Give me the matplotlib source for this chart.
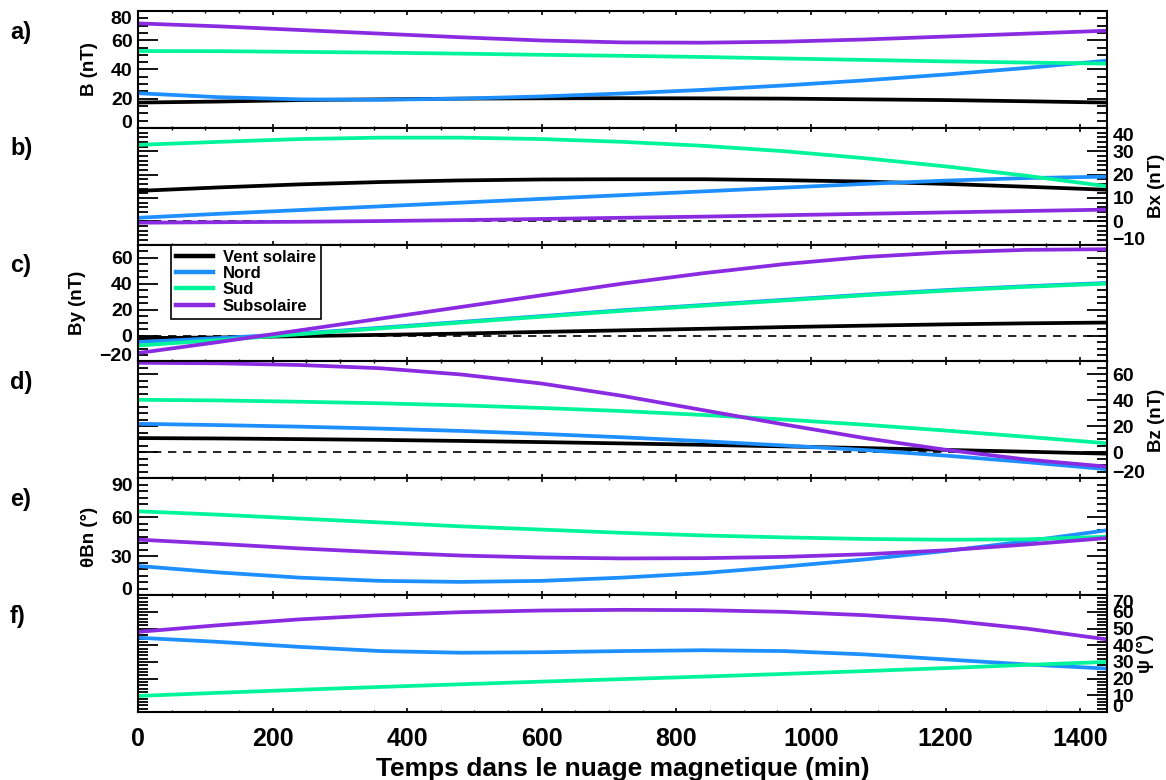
import numpy as np
import matplotlib.pyplot as plt

plt.rcParams['font.family'] = ['Liberation Sans', 'DejaVu Sans']
plt.rcParams['font.weight'] = 'bold'
plt.rcParams['axes.labelweight'] = 'bold'
plt.rcParams['axes.linewidth'] = 1.5

# time in the magnetic cloud (min)
time = [0, 120, 240, 360, 480, 600, 720, 840, 960, 1080, 1200, 1320, 1440]

# a) B (nT)
b_sw = [17.3, 18.0, 19.0, 19.5, 20.0, 20.2, 20.3, 20.2, 20.0, 19.5, 19.0, 18.2, 17.3]
b_nord = [23.7, 21.0, 19.5, 19.2, 20.0, 21.5, 23.5, 26.0, 29.0, 32.5, 36.5, 41.0, 46.0]
b_sud = [52.6, 52.5, 52.0, 51.5, 50.8, 50.0, 49.3, 48.5, 47.5, 46.5, 45.5, 44.7, 44.0]
b_sub = [71.5, 69.5, 67.0, 64.5, 62.0, 59.8, 58.5, 58.3, 59.0, 60.5, 62.5, 64.5, 66.5]

# b) Bx (nT)
bx_sw = [13.0, 14.5, 15.8, 16.8, 17.5, 17.9, 18.0, 18.0, 17.6, 17.0, 16.0, 14.8, 13.5]
bx_nord = [1.5, 3.2, 4.8, 6.4, 8.0, 9.6, 11.2, 12.8, 14.4, 16.0, 17.4, 18.5, 19.1]
bx_sud = [32.7, 34.0, 35.2, 35.8, 35.8, 35.2, 34.0, 32.3, 30.0, 27.0, 23.5, 19.5, 15.0]
bx_sub = [-0.6, -0.4, -0.2, 0.1, 0.5, 1.0, 1.5, 2.0, 2.6, 3.2, 3.8, 4.4, 5.0]

# c) By (nT)
by_sw = [-2.0, -1.5, -0.5, 0.5, 1.5, 2.8, 4.0, 5.2, 6.5, 7.6, 8.6, 9.4, 10.0]
by_nord = [-5.0, -2.0, 1.5, 6.0, 10.5, 15.0, 19.5, 23.5, 27.5, 31.5, 35.0, 38.0, 40.5]
by_sud = [-7.7, -3.5, 1.0, 5.5, 10.0, 14.5, 19.0, 23.0, 27.0, 31.0, 34.5, 37.5, 40.0]
by_sub = [-13.5, -5.0, 4.0, 13.0, 22.0, 31.0, 40.0, 48.0, 55.0, 60.5, 64.0, 66.0, 66.5]

# d) Bz (nT)
bz_sw = [11.0, 10.7, 10.2, 9.6, 8.8, 7.9, 6.9, 5.8, 4.6, 3.3, 1.9, 0.5, -1.0]
bz_nord = [22.0, 21.0, 19.8, 18.3, 16.5, 14.2, 11.6, 8.6, 5.3, 1.8, -2.5, -7.5, -13.0]
bz_sud = [40.5, 40.0, 39.0, 37.8, 36.2, 34.2, 31.8, 28.8, 25.3, 21.3, 16.8, 12.0, 7.0]
bz_sub = [69.0, 68.6, 67.3, 64.8, 60.0, 53.0, 43.5, 32.5, 21.5, 11.0, 2.0, -5.5, -11.0]

# e) theta Bn (deg)
th_nord = [22.5, 17.5, 13.5, 11.0, 10.2, 11.0, 13.5, 17.0, 22.0, 27.5, 34.0, 41.5, 50.0]
th_sud = [64.6, 62.0, 59.0, 56.0, 53.0, 50.5, 48.0, 46.0, 44.5, 43.3, 42.7, 43.0, 45.0]
th_sub = [42.8, 39.5, 36.0, 33.0, 30.5, 29.0, 28.3, 28.5, 29.5, 31.5, 34.5, 39.0, 44.0]

# f) psi (deg)
psi_nord = [44.5, 42.0, 39.0, 36.5, 35.5, 35.8, 36.5, 37.0, 36.5, 34.5, 31.5, 28.5, 26.0]
psi_sud = [9.6, 11.5, 13.3, 15.0, 16.6, 18.2, 19.7, 21.2, 22.8, 24.5, 26.3, 28.2, 30.0]
psi_sub = [48.0, 52.0, 55.5, 58.0, 59.8, 60.8, 61.2, 61.0, 60.0, 58.0, 55.0, 50.0, 43.5]

names = ['Vent solaire', 'Nord', 'Sud', 'Subsolaire']
colors = ['black', '#1e8fff', '#00f59a', '#8a2be2']

panels = [
    ('a)', 'B (nT)', 'left', (0, 80), [0, 20, 40, 60, 80], 5, [b_sw, b_nord, b_sud, b_sub], False),
    ('b)', 'Bx (nT)', 'right', (-10, 40), [-10, 0, 10, 20, 30, 40], 2, [bx_sw, bx_nord, bx_sud, bx_sub], True),
    ('c)', 'By (nT)', 'left', (-20, 70), [-20, 0, 20, 40, 60], 5, [by_sw, by_nord, by_sud, by_sub], True),
    ('d)', 'Bz (nT)', 'right', (-20, 70), [-20, 0, 20, 40, 60], 5, [bz_sw, bz_nord, bz_sud, bz_sub], True),
    ('e)', 'θBn (°)', 'left', (0, 90), [0, 30, 60, 90], 5, [None, th_nord, th_sud, th_sub], False),
    ('f)', 'ψ (°)', 'right', (0, 70), [0, 10, 20, 30, 40, 50, 60, 70], 2, [None, psi_nord, psi_sud, psi_sub], False),
]

W, H = 1166, 780
fig = plt.figure(figsize=(W / 100, H / 100), dpi=100)
x0, x1 = 138, 1107
top0, ph = 11, 116.83

for i, (letter, ylab, side, ylim, yt, ymin, series, zero) in enumerate(panels):
    top = top0 + i * ph
    ax = fig.add_axes([x0 / W, 1 - (top + ph) / H, (x1 - x0) / W, ph / H])
    if zero:
        ax.axhline(0, color='k', lw=1.2, ls=(0, (5, 4)), zorder=1)
    for s, name, c in zip(series, names, colors):
        if s is None:
            continue
        ax.plot(time, s, color=c, lw=2.7, label=name, zorder=2)

    ax.set_xlim(0, 1440)
    ax.set_ylim(*ylim)
    ax.set_xticks([0, 200, 400, 600, 800, 1000, 1200, 1400])
    ax.xaxis.set_minor_locator(plt.MultipleLocator(50))
    ax.set_yticks(yt)
    ax.yaxis.set_minor_locator(plt.MultipleLocator(ymin))
    ax.tick_params(axis='x', which='both', direction='in', top=True, bottom=True,
                   labelbottom=(i == 5), labelsize=18, pad=11)
    ax.tick_params(axis='x', which='major', length=3, width=1.2)
    ax.tick_params(axis='x', which='minor', length=1.5, width=1.0)
    ax.tick_params(axis='y', which='both', direction='in', left=True, right=True,
                   labelleft=(side == 'left'), labelright=(side == 'right'),
                   labelsize=14, pad=4)
    ax.tick_params(axis='y', which='major', length=14.5, width=1.3)
    ax.tick_params(axis='y', which='minor', length=7.2, width=1.3)

    # end labels pushed inside the panel, as in the original
    for tk, v in zip(ax.yaxis.get_major_ticks(), yt):
        if v == ylim[0]:
            tk.label1.set_va('baseline')
            tk.label2.set_va('baseline')
        elif v == ylim[1]:
            tk.label1.set_va('top')
            tk.label2.set_va('top')

    if side == 'right':
        ax.yaxis.set_label_position('right')
        ax.set_ylabel(ylab, fontsize=13.5, labelpad=2)
    else:
        ax.set_ylabel(ylab, fontsize=13.5, labelpad=9.5)

    fig.text(10 / W, 1 - (top + 21) / H, letter, fontsize=17, ha='left', va='center')

    if i == 2:
        leg = ax.legend(loc='upper left', bbox_to_anchor=(0.034, 1.0), borderaxespad=0,
                        fontsize=12, handlelength=2.2, handletextpad=0.6,
                        labelspacing=0.08, borderpad=0.3, fancybox=False,
                        framealpha=1, edgecolor='black')
        leg.get_frame().set_linewidth(1.2)
        for ln in leg.get_lines():
            ln.set_linewidth(3.2)

    if i == 5:
        ax.set_xlabel('Temps dans le nuage magnetique (min)', fontsize=19, labelpad=4)

fig.savefig('out.png', dpi=100)
